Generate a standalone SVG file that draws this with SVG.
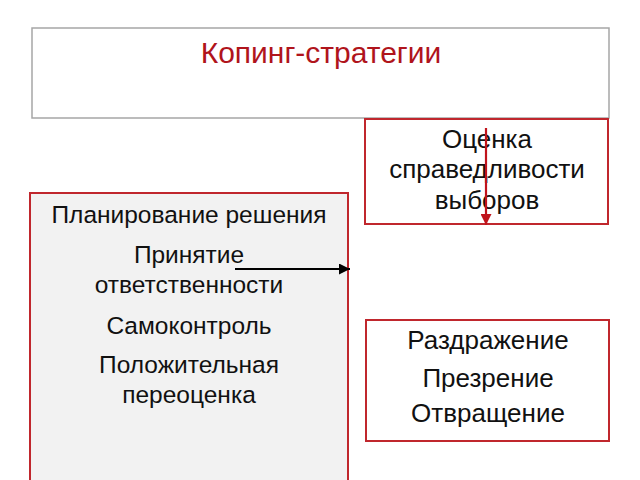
<svg xmlns="http://www.w3.org/2000/svg" width="640" height="480" viewBox="0 0 640 480">
<style>
.t{font-family:"Liberation Sans",Arial,sans-serif;fill:#111;text-anchor:middle}
.l{font-size:24.5px}
.r{font-size:26px}
.box{fill:#fff;stroke:#c0272d;stroke-width:2}
</style>
<defs>
<marker id="ab" viewBox="0 0 10 10" refX="10" refY="5" markerWidth="5" markerHeight="5" orient="auto" markerUnits="strokeWidth"><path d="M0,0 L10,5 L0,10 z" fill="#000"/></marker>
<marker id="ar" viewBox="0 0 10 10" refX="10" refY="5" markerWidth="5" markerHeight="5" orient="auto" markerUnits="strokeWidth"><path d="M0,0 L10,5 L0,10 z" fill="#c0141c"/></marker>
</defs>
<rect width="640" height="480" fill="#fff"/>
<g id="title">
<rect x="32" y="28" width="577" height="90" fill="#fff" stroke="#a6a6a6" stroke-width="1.5"/>
<text x="321" y="63" class="t" style="fill:#b0141c;font-size:30px">Копинг-стратегии</text>
</g>
<g id="left">
<rect x="30" y="193" width="318" height="300" fill="#f2f2f2" stroke="#c0272d" stroke-width="2"/>
<text x="189" y="223" class="t l">Планирование решения</text>
<text x="189" y="263" class="t l">Принятие</text>
<text x="189" y="293" class="t l">ответственности</text>
<text x="189" y="334" class="t l">Самоконтроль</text>
<text x="189" y="373" class="t l">Положительная</text>
<text x="189" y="403" class="t l">переоценка</text>
</g>
<g id="fair">
<rect x="365" y="119" width="243" height="105" class="box"/>
<text x="487" y="148" class="t r">Оценка</text>
<text x="487" y="178" class="t r">справедливости</text>
<text x="487" y="209" class="t r">выборов</text>
</g>
<g id="emotions">
<rect x="366" y="320" width="243" height="121" class="box"/>
<text x="488" y="349" class="t r">Раздражение</text>
<text x="488" y="387" class="t r">Презрение</text>
<text x="488" y="422" class="t r">Отвращение</text>
</g>
<g id="connectors">
<line x1="235" y1="269" x2="350" y2="269" stroke="#000" stroke-width="2.2" marker-end="url(#ab)"/>
<line x1="486" y1="128" x2="486" y2="225" stroke="#c0141c" stroke-width="2.2" marker-end="url(#ar)"/>
</g>
</svg>
